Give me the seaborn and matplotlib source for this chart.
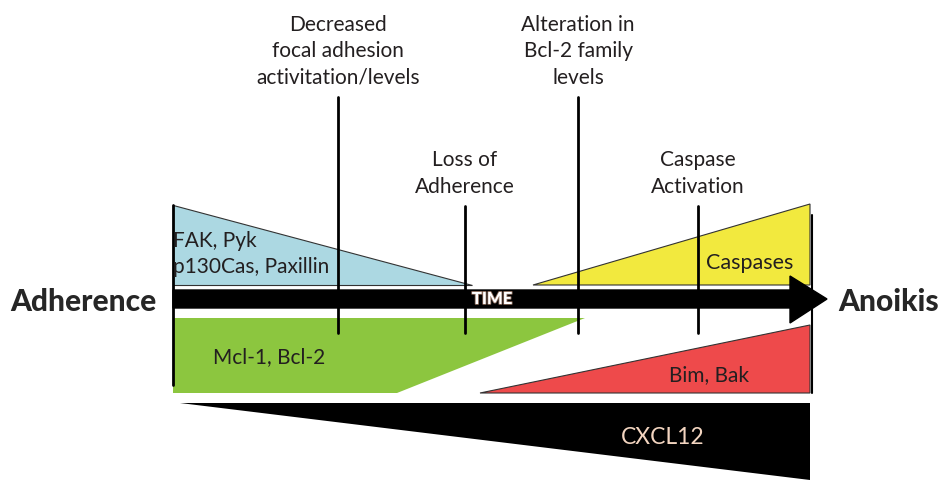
import matplotlib
matplotlib.use("Agg")
import matplotlib.pyplot as plt
import matplotlib.patheffects as pe
import seaborn as sns

# Timeline geometry (image-like units: x to the right, y downwards)
t_start, t_end = 173, 810
bar_top, bar_bottom = 290, 308
head_x, head_tip = 790, 827
head_top, head_bottom = 276, 323

# Protein level wedges: (x list, y list)
fak_x = [173, 173, 472]
fak_y = [205, 285, 285]
casp_x = [533, 810, 810]
casp_y = [285, 204, 285]
mcl_x = [173, 585, 397, 173]
mcl_y = [318, 318, 393, 393]
bim_x = [480, 810, 810]
bim_y = [393, 325, 393]
cxcl_x = [180, 810, 810]
cxcl_y = [403, 403, 480]

# Event markers
event_labels = ["Decreased\nfocal adhesion\nactivitation/levels", "Loss of\nAdherence",
                "Alteration in\nBcl-2 family\nlevels", "Caspase\nActivation"]
event_x = [338, 465, 578, 698]
event_top = [97, 206, 97, 206]
event_bottom = [333, 333, 333, 333]

sns.set_theme(style="white")
plt.rcParams['font.family'] = ['Lato', 'DejaVu Sans']

fig = plt.figure(figsize=(9.44, 4.82), dpi=100)
ax = fig.add_axes([0, 0, 1, 1])
ax.set_xlim(0, 944)
ax.set_ylim(482, 0)
ax.axis("off")

ax.fill(fak_x, fak_y, color="#acd8e2", ec="#333333", lw=0.8)
ax.fill(casp_x, casp_y, color="#f2e93e", ec="#333333", lw=0.8)
ax.fill(mcl_x, mcl_y, color="#8cc63f", ec="none")
ax.fill(bim_x, bim_y, color="#ee4a4b", ec="#333333", lw=0.8)
ax.fill(cxcl_x, cxcl_y, color="black", ec="none")

# time arrow
ax.fill([t_start, head_x, head_x, head_tip, head_x, head_x, t_start],
        [bar_top, bar_top, head_top, (bar_top + bar_bottom) / 2, head_bottom, bar_bottom, bar_bottom],
        color="black")
ax.plot([t_start, t_start], [205, 385], color="black", lw=2)
ax.plot([t_end + 2, t_end + 2], [215, 393], color="black", lw=1.5)

for lab, x, y0, y1 in zip(event_labels, event_x, event_top, event_bottom):
    ax.plot([x, x], [y0, y1], color="black", lw=2)
    ax.text(x, y0 - 9, lab, ha="center", va="bottom", fontsize=15, color="#231f20",
            linespacing=1.42)

ax.text(10, 302, "Adherence", fontsize=21.5, fontweight="black", va="center", ha="left")
ax.text(838, 302, "Anoikis", fontsize=21.5, fontweight="black", va="center", ha="left")
ax.text(173, 254, "FAK, Pyk\np130Cas, Paxillin", fontsize=15, va="center", ha="left",
        linespacing=1.38, color="#231f20")
ax.text(750, 263, "Caspases", fontsize=15.5, va="center", ha="center", color="#231f20")
ax.text(269, 357, "Mcl-1, Bcl-2", fontsize=15, va="center", ha="center", color="#231f20")
ax.text(709, 375, "Bim, Bak", fontsize=15, va="center", ha="center", color="#231f20")
ax.text(663, 437, "CXCL12", fontsize=16.5, va="center", ha="center", color="#f3d5c0")
ax.text(492, 299, "TIME", fontsize=12, fontweight="black", va="center", ha="center",
        color="white", path_effects=[pe.withStroke(linewidth=1.2, foreground="#8a6a5a")])

fig.savefig("out.png", dpi=100)
